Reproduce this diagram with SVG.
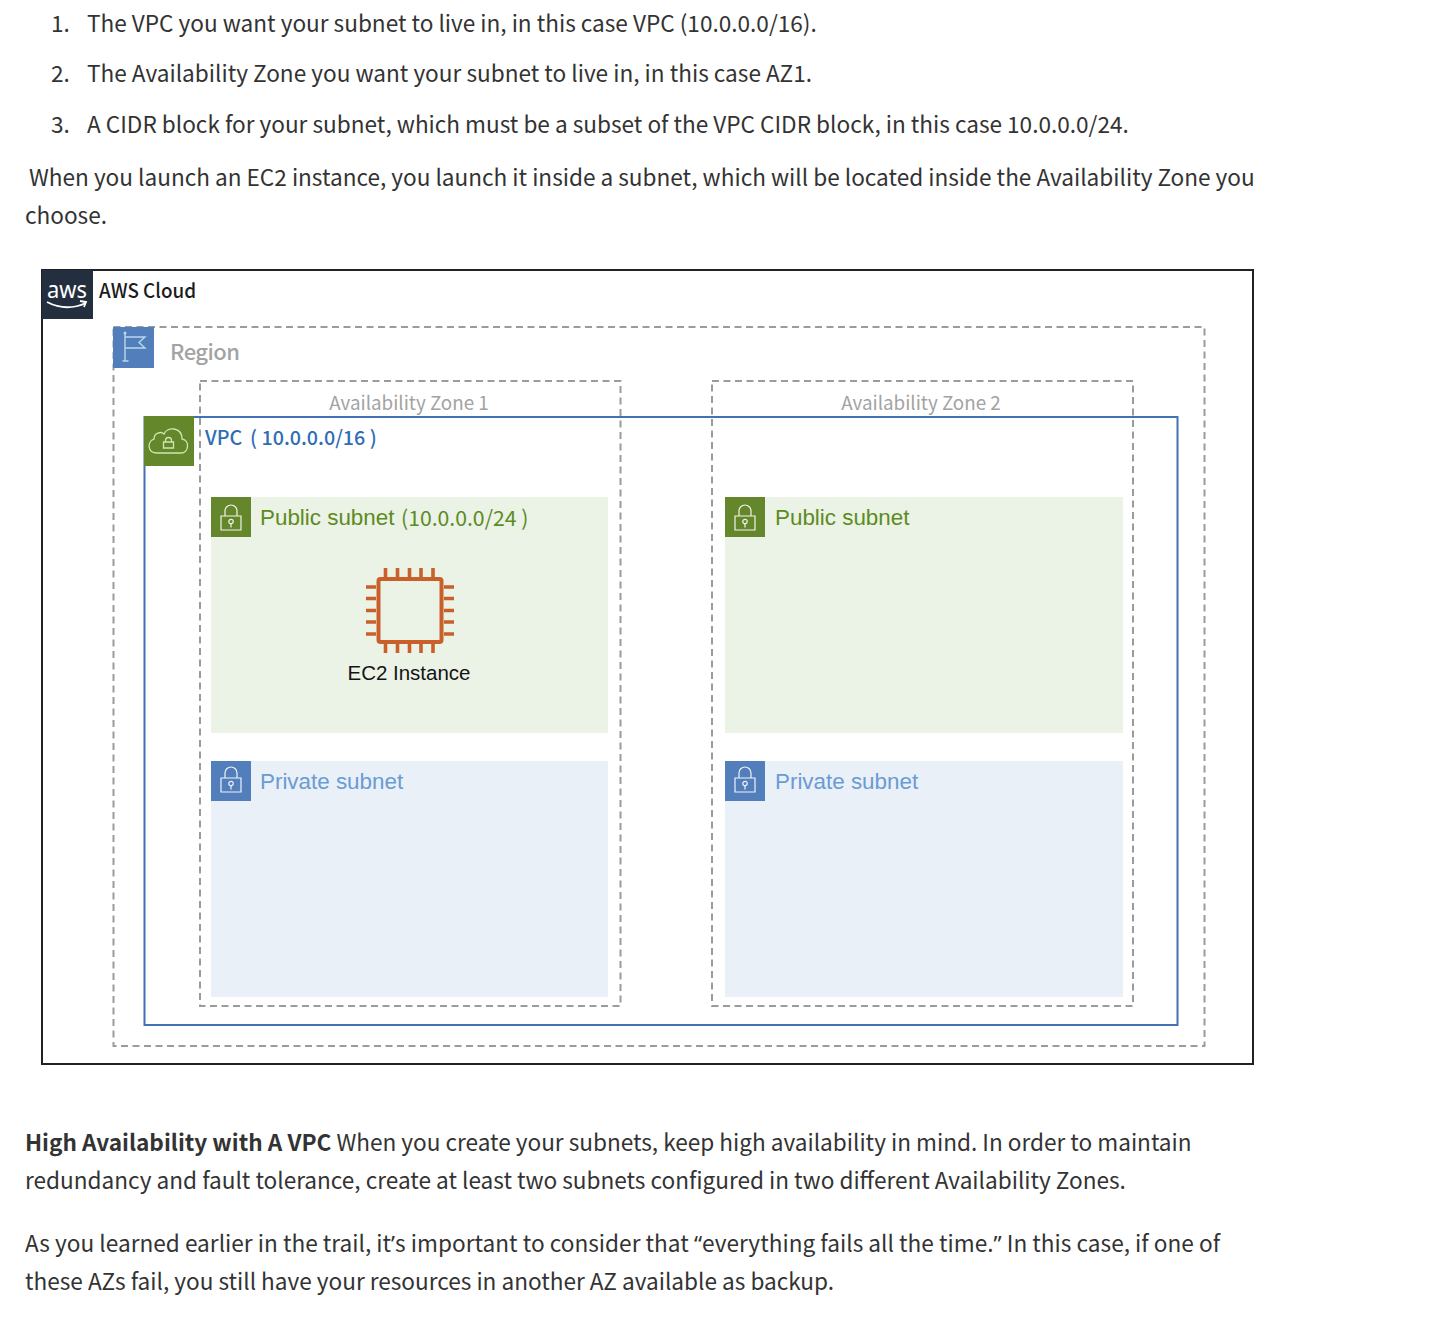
<svg xmlns="http://www.w3.org/2000/svg" width="1434" height="1318" viewBox="0 0 1434 1318">
<defs>
<style>
.t{font-family:"Noto Sans CJK SC","Noto Sans",sans-serif;font-size:22.600px;fill:#333}
.q{font-family:"Noto Sans",sans-serif}
.h{font-family:"Noto Sans CJK SC","Noto Sans",sans-serif;font-size:22px}
.az{font-size:18.800px;fill:#a3a3a3}
.v{font-size:19.700px;font-weight:500;fill:#2f6db5}
.a{font-family:"Liberation Sans",Arial,sans-serif;font-size:22.400px}
.dash{fill:none;stroke:#9b9b9b;stroke-width:2;stroke-dasharray:7 4.500}
.ic{fill:none;stroke:#fff;stroke-width:1.200;opacity:.9}
</style>
<g id="lock"><path class="ic" d="M-6 0v-5a6 6 0 0 1 12 0v5M-10 0h20v14h-20zM0 7.500v4"/><circle class="ic" cx="0" cy="5.500" r="2.200"/></g>
</defs>
<rect width="1434" height="1318" fill="#fff"/>
<g id="text-top">
<text class="t" x="51" y="32">1.</text><text class="t" x="87" y="32">The VPC you want your subnet to live in, in this case VPC (10.0.0.0/16).</text>
<text class="t" x="51" y="82">2.</text><text class="t" x="87" y="82" textLength="725">The Availability Zone you want your subnet to live in, in this case AZ1.</text>
<text class="t" x="51" y="133">3.</text><text class="t" x="87" y="133">A CIDR block for your subnet, which must be a subset of the VPC CIDR block, in this case 10.0.0.0/24.</text>
<text class="t" x="29" y="186">When you launch an EC2 instance, you launch it inside a subnet, which will be located inside the Availability Zone you</text>
<text class="t" x="25" y="224">choose.</text>
</g>
<g id="aws-cloud">
<rect x="42" y="270" width="1211" height="794" fill="#fff" stroke="#1f2328" stroke-width="2"/>
<rect x="42" y="270" width="51" height="49" fill="#232f3e"/>
<text x="67" y="298" text-anchor="middle" font-family="'Noto Sans',sans-serif" font-size="23" fill="#fff" textLength="40" lengthAdjust="spacingAndGlyphs">aws</text>
<path d="M47 302q19 10 39 1M80 301l6 1l-2 5" fill="none" stroke="#fff" stroke-width="1.800"/>
<text class="h" x="99" y="298" fill="#1c1c1c" font-weight="500" style="font-size:20px" textLength="97" lengthAdjust="spacingAndGlyphs">AWS Cloud</text>
</g>
<g id="region">
<rect class="dash" x="113.500" y="327" width="1091" height="719"/>
<rect x="113" y="327" width="41" height="41" fill="#527fbb"/>
<path d="M125 361v-28M122.500 361h6M125 337h20l-6 5.500 6 5.500h-20" fill="none" stroke="#b9d8ee" stroke-width="1.400"/>
<circle cx="125" cy="333" r="1.500" fill="#b9d8ee"/>
<text class="h" x="170" y="360" fill="#a3a3a3" font-weight="500" textLength="70">Region</text>
</g>
<g id="az1"><rect class="dash" x="200" y="381" width="420.500" height="625"/><text class="h az" x="409" y="410" text-anchor="middle">Availability Zone 1</text></g>
<g id="az2"><rect class="dash" x="712" y="381" width="421" height="625"/><text class="h az" x="921" y="410" text-anchor="middle">Availability Zone 2</text></g>
<g id="vpc">
<rect x="144.500" y="417" width="1033" height="608" fill="none" stroke="#4371b5" stroke-width="2"/>
<rect x="144" y="416" width="50" height="50" fill="#65872b"/>
<path d="M157 453c-10 0-10-12-3-14c0-6 7-8 10-5c3-8 18-7 18 5c8 1 7 14-1 14z" fill="none" stroke="#cfe6b0" stroke-width="1.300"/>
<path d="M163.500 448h10v-6h-10zM165.500 442v-1.500a3 3 0 0 1 6 0v1.500" fill="none" stroke="#cfe6b0" stroke-width="1.300"/>
<text class="h v" x="205" y="445">VPC</text>
<text class="h v" x="250" y="445">( 10.0.0.0/16 )</text>
</g>
<g id="public-subnet-1">
<rect x="211" y="497" width="397" height="236" fill="#ebf2e6"/>
<rect x="211" y="497" width="40" height="40" fill="#65872b"/>
<use href="#lock" x="231" y="516"/>
<text class="a" x="260" y="525" fill="#5d8b1e">Public subnet</text>
<text class="h" x="401" y="526" fill="#5d8b1e" style="font-size:21.200px">(10.0.0.0/24 )</text>
</g>
<g id="public-subnet-2">
<rect x="725" y="497" width="398" height="236" fill="#ebf2e6"/>
<rect x="725" y="497" width="40" height="40" fill="#65872b"/>
<use href="#lock" x="745" y="516"/>
<text class="a" x="775" y="525" fill="#5d8b1e">Public subnet</text>
</g>
<g id="private-subnet-1">
<rect x="211" y="761" width="397" height="236" fill="#e9f0f7"/>
<rect x="211" y="761" width="40" height="40" fill="#527fbb"/>
<use href="#lock" x="231" y="778"/>
<text class="a" x="260" y="789" fill="#6a9bd4">Private subnet</text>
</g>
<g id="private-subnet-2">
<rect x="725" y="761" width="398" height="236" fill="#e9f0f7"/>
<rect x="725" y="761" width="40" height="40" fill="#527fbb"/>
<use href="#lock" x="745" y="778"/>
<text class="a" x="775" y="789" fill="#6a9bd4">Private subnet</text>
</g>
<g id="ec2-instance">
<rect x="378.500" y="579" width="63" height="63" rx="2" fill="none" stroke="#c9602a" stroke-width="4"/>
<path d="M385.500 568v9M397.500 568v9M409.500 568v9M421 568v9M433 568v9M385.500 644v9M397.500 644v9M409.500 644v9M421 644v9M433 644v9M366 587h10M366 598.500h10M366 610.500h10M366 622h10M366 634h10M444 587h10M444 598.500h10M444 610.500h10M444 622h10M444 634h10" fill="none" stroke="#c9602a" stroke-width="3.600"/>
<text x="409" y="680" text-anchor="middle" font-family="'Liberation Sans',sans-serif" font-size="20.500" fill="#141414">EC2 Instance</text>
</g>
<g id="text-bottom">
<text class="t" x="25" y="1151"><tspan font-weight="700">High Availability with A VPC</tspan> When you create your subnets, keep high availability in mind. In order to maintain</text>
<text class="t" x="25" y="1189">redundancy and fault tolerance, create at least two subnets configured in two different Availability Zones.</text>
<text class="t" x="25" y="1252" textLength="1195">As you learned earlier in the trail, it<tspan class="q">’</tspan>s important to consider that <tspan class="q">“</tspan>everything fails all the time.<tspan class="q">”</tspan> In this case, if one of</text>
<text class="t" x="25" y="1290">these AZs fail, you still have your resources in another AZ available as backup.</text>
</g>
<g id="connectors"/>
</svg>
